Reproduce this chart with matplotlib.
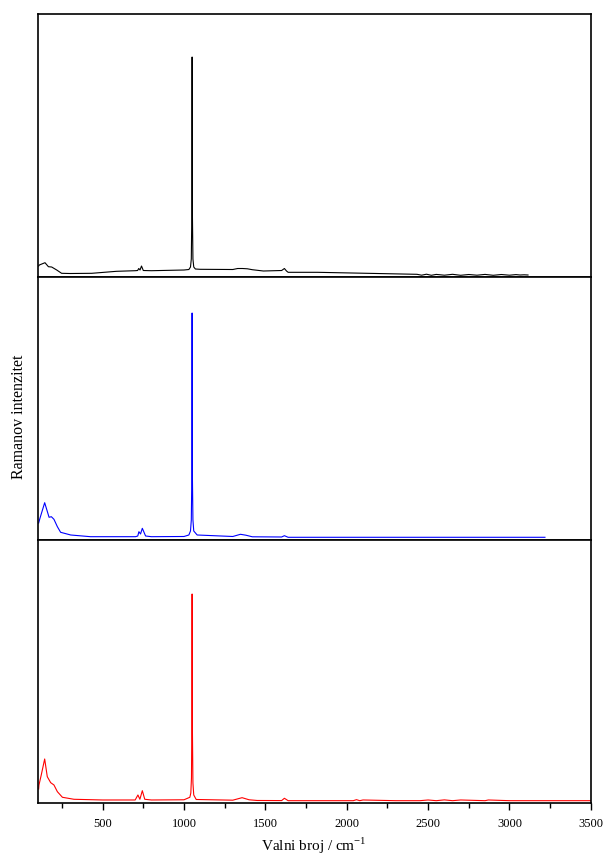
import numpy as np
import matplotlib.pyplot as plt
from matplotlib.ticker import MultipleLocator

plt.rcParams['font.family'] = ['Liberation Serif', 'DejaVu Serif']
plt.rcParams['mathtext.fontset'] = 'custom'
plt.rcParams['mathtext.rm'] = 'Liberation Serif'

# spectra (wavenumber / cm-1, intensity in arb. units)
black_x = [107, 111, 146, 167, 187, 218, 248, 300, 433, 586, 700, 715, 722, 730, 739, 750, 800,
           1000, 1030, 1040, 1045, 1048, 1050, 1052, 1055, 1060, 1070, 1100, 1300, 1330, 1360,
           1390, 1420, 1488, 1600, 1617, 1630, 1640, 1820, 2125, 2432, 2460, 2490, 2520, 2550,
           2600, 2650, 2700, 2750, 2800, 2850, 2900, 2950, 3000, 3040, 3065, 3090, 3114]
black_y = [11, 12, 14.3, 10.3, 10, 7, 3.7, 3.5, 3.7, 5.7, 6.3, 6.5, 8.5, 7, 11, 6.5, 6.3,
           7, 7.5, 10, 18, 60, 220, 60, 18, 10, 8, 7.7, 7.5, 8.5, 8.5, 8.2, 7.3, 6, 6.5,
           8.5, 6, 4.7, 4.7, 3.7, 2.7, 1.8, 2.8, 1.7, 2.6, 1.8, 2.7, 1.7, 2.5, 1.8, 2.6, 1.7,
           2.5, 1.8, 2.4, 2, 2.2, 2]

blue_x = [107, 115, 144, 171, 185, 201, 222, 242, 304, 426, 702, 716, 723, 733, 744, 764, 800,
          1000, 1030, 1040, 1045, 1048, 1050, 1052, 1055, 1060, 1081, 1300, 1347, 1380, 1420,
          1600, 1617, 1640, 2000, 2500, 3000, 3218]
blue_y = [17, 21.7, 37.3, 22.7, 23.3, 20.7, 13.3, 7.7, 5, 3.3, 3.3, 4, 8.3, 6, 11.7, 4, 3.3,
          3.5, 5, 9, 20, 60, 227, 60, 20, 9, 5, 3.5, 5.7, 4.8, 3.2, 3, 4.3, 2.7, 2.7, 2.7,
          2.7, 2.7]

red_x = [107, 109, 123, 144, 160, 181, 201, 222, 253, 324, 500, 700, 717, 729, 744, 759, 800,
         1000, 1036, 1042, 1046, 1048, 1050, 1052, 1055, 1060, 1075, 1300, 1357, 1400, 1450,
         1600, 1617, 1640, 2040, 2060, 2080, 2100, 2300, 2450, 2500, 2550, 2600, 2650, 2700,
         2850, 2870, 3000, 3500]
red_y = [14, 18, 28, 44, 26.3, 20.3, 18, 11.3, 5.7, 3.7, 3, 3, 8, 3.7, 12.3, 3.7, 3,
         3.2, 5.7, 10, 25, 70, 209, 70, 20, 8, 3.5, 2.8, 5.3, 3.2, 2.5, 2.4, 4.7, 2.3,
         2.3, 3.3, 2.3, 3, 2.3, 2.3, 3, 2.3, 3.1, 2.3, 3, 2.3, 3, 2.3, 2.3]

series = [(black_x, black_y, 'black'), (blue_x, blue_y, 'blue'), (red_x, red_y, 'red')]

fig = plt.figure(figsize=(6.06, 8.6), dpi=100)
gs = fig.add_gridspec(3, 1, left=0.0619, right=0.975, bottom=0.0663, top=0.9837, hspace=0)
axes = [fig.add_subplot(gs[i]) for i in range(3)]

for ax, (x, y, c) in zip(axes, series):
    ax.plot(x, y, color=c, linewidth=0.8)
    ax.set_xlim(100, 3500)
    ax.set_ylim(0, 263)
    ax.set_yticks([])
    for s in ax.spines.values():
        s.set_linewidth(1.2)
    ax.tick_params(axis='x', which='both', bottom=False, labelbottom=False)

ax = axes[-1]
ax.xaxis.set_major_locator(MultipleLocator(500))
ax.xaxis.set_minor_locator(MultipleLocator(250))
ax.set_xticks([500, 1000, 1500, 2000, 2500, 3000, 3500])
ax.tick_params(axis='x', which='major', bottom=True, labelbottom=True, direction='out',
               length=5, width=1, labelsize=9, pad=6)
ax.tick_params(axis='x', which='minor', bottom=True, direction='out', length=3.5, width=1)
ax.set_xlabel('Valni broj / cm$^{\\mathregular{-1}}$', fontsize=11, labelpad=4)

fig.text(0.031, 0.515, 'Ramanov intenzitet', rotation=90, va='center', ha='center', fontsize=11.5)

fig.savefig('out.png', dpi=100)
